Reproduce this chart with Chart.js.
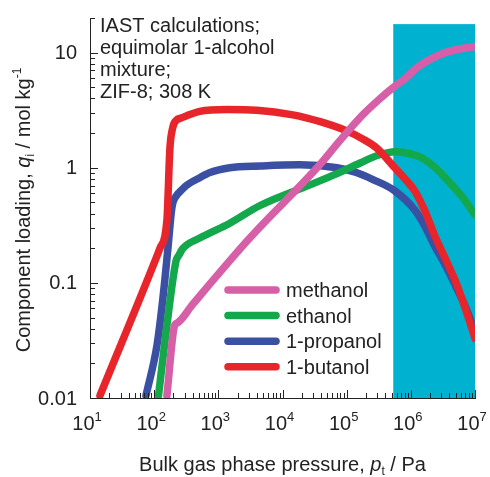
<!DOCTYPE html>
<html>
<head>
<meta charset="utf-8">
<script src="https://cdn.jsdelivr.net/npm/chart.js@4.4.0/dist/chart.umd.min.js"></script>
<style>
  html, body { margin: 0; padding: 0; background: #fff; }
  #wrap { width: 490px; height: 477px; position: relative; }
</style>
</head>
<body>
<div id="wrap"><canvas id="loadingChart"></canvas></div>
<script>
// IAST component loadings, equimolar 1-alcohol mixture in ZIF-8
const seriesNames = ['methanol', 'ethanol', '1-propanol', '1-butanol'];
const seriesColors = ['#d65fa7', '#13a84c', '#3b50a3', '#e8252b'];

const methanolP = [158, 209, 230, 398, 3090, 38000, 78300, 179000, 316000, 525000, 832000, 1240000, 2820000, 5010000, 1e7];
const methanolQ = [0.0105, 0.043, 0.045, 0.065, 0.245, 1.06, 1.72, 2.89, 3.9, 4.96, 6.0, 7.41, 9.6, 10.6, 11.3];

const ethanolP = [117, 151, 219, 240, 282, 513, 1510, 4470, 26900, 70800, 162000, 316000, 562000, 1000000, 1480000, 2400000, 3800000, 6310000, 1e7];
const ethanolQ = [0.0105, 0.035, 0.155, 0.172, 0.20, 0.245, 0.33, 0.47, 0.71, 0.89, 1.10, 1.29, 1.38, 1.32, 1.22, 1.0, 0.77, 0.56, 0.39];

const propanolP = [74.5, 111, 137, 164, 189, 226, 245, 316, 513, 741, 1510, 4470, 18600, 70800, 141000, 257000, 562000, 1150000, 1660000, 2340000, 3390000, 4900000, 7080000, 1e7];
const propanolQ = [0.0105, 0.029, 0.074, 0.20, 0.45, 0.58, 0.61, 0.70, 0.82, 0.91, 1.0, 1.035, 1.06, 1.0, 0.91, 0.79, 0.63, 0.43, 0.31, 0.21, 0.145, 0.096, 0.062, 0.038];

const butanolP = [14.3, 110, 123, 158, 176, 195, 226, 250, 316, 513, 1350, 3980, 14500, 39800, 100000, 178000, 295000, 562000, 794000, 1150000, 1660000, 2340000, 3390000, 4900000, 7080000, 1e7];
const butanolQ = [0.0105, 0.17, 0.20, 0.35, 1.48, 2.24, 2.61, 2.68, 2.82, 3.09, 3.2, 3.16, 2.88, 2.5, 2.09, 1.78, 1.48, 1.0, 0.81, 0.63, 0.42, 0.26, 0.166, 0.105, 0.060, 0.033];

// shaded pressure range
const bandP = [530000, 1e7];
const bandQ = [17.5, 17.5];

const xTickVals = [1e1, 1e2, 1e3, 1e4, 1e5, 1e6, 1e7];
const xTickExps = ['1', '2', '3', '4', '5', '6', '7'];
const yTickVals = [0.01, 0.1, 1, 10];
const yTickLabels = ['0.01', '0.1', '1', '10'];

const noteLines = ['IAST calculations;', 'equimolar 1-alcohol', 'mixture;', 'ZIF-8; 308 K'];

const FONT = '"Liberation Sans", Arial, Helvetica, sans-serif';

function toPoints(px, qy) {
    return px.map((p, i) => ({ x: p, y: qy[i] }));
}

function lineSet(label, px, qy, color, order) {
    return {
        label: label,
        data: toPoints(px, qy),
        borderColor: color,
        backgroundColor: color,
        borderWidth: 7.5,
        borderCapStyle: 'round',
        borderJoinStyle: 'round',
        pointRadius: 0,
        cubicInterpolationMode: 'monotone',
        fill: false,
        order: order
    };
}

// draws a run of text pieces, each with its own size/style/offset
function drawRich(ctx, parts, x, y, align) {
    let total = 0;
    parts.forEach(p => {
        ctx.font = (p.italic ? 'italic ' : '') + p.size + 'px ' + FONT;
        p.w = ctx.measureText(p.text).width;
        total += p.w;
    });
    let cx = align === 'center' ? x - total / 2 : x;
    ctx.textAlign = 'left';
    ctx.textBaseline = 'alphabetic';
    parts.forEach(p => {
        ctx.font = (p.italic ? 'italic ' : '') + p.size + 'px ' + FONT;
        ctx.fillText(p.text, cx, y + (p.dy || 0));
        cx += p.w;
    });
}

const axisDecor = {
    id: 'axisDecor',
    afterDatasetsDraw(chart) {
        const ctx = chart.ctx;
        const xs = chart.scales.x, ys = chart.scales.y;
        const area = chart.chartArea;
        ctx.save();
        ctx.strokeStyle = '#222';
        ctx.lineWidth = 1;

        // inward tick marks, decades longer
        for (let e = 1; e <= 7; e++) {
            for (let m = 1; m <= 9; m++) {
                const v = m * Math.pow(10, e);
                if (v > xs.max * 1.0001) break;
                const px = Math.round(xs.getPixelForValue(v)) + 0.5;
                const len = m === 1 ? 8 : 5;
                ctx.beginPath();
                ctx.moveTo(px, area.bottom);
                ctx.lineTo(px, area.bottom - len);
                ctx.stroke();
            }
        }
        for (let e = -2; e <= 1; e++) {
            for (let m = 1; m <= 9; m++) {
                const v = m * Math.pow(10, e);
                if (v > ys.max * 1.0001) break;
                const py = Math.round(ys.getPixelForValue(v)) + 0.5;
                const len = m === 1 ? 8 : 5;
                ctx.beginPath();
                ctx.moveTo(area.left, py);
                ctx.lineTo(area.left + len, py);
                ctx.stroke();
            }
        }

        ctx.fillStyle = '#222';

        // y tick labels
        ctx.font = '20px ' + FONT;
        ctx.textAlign = 'right';
        ctx.textBaseline = 'middle';
        yTickVals.forEach((v, i) => {
            ctx.fillText(yTickLabels[i], area.left - 13, ys.getPixelForValue(v) + 1);
        });

        // x tick labels as powers of ten
        xTickVals.forEach((v, i) => {
            const px = xs.getPixelForValue(v);
            drawRich(ctx, [
                { text: '10', size: 20 },
                { text: xTickExps[i], size: 13, dy: -9 }
            ], px - 3, 430, 'center');
        });

        // x axis title
        drawRich(ctx, [
            { text: 'Bulk gas phase pressure, ', size: 20 },
            { text: 'p', size: 20, italic: true },
            { text: 't', size: 12, dy: 4 },
            { text: ' / Pa', size: 20 }
        ], (area.left + area.right) / 2, 471, 'center');

        // y axis title, rotated
        ctx.save();
        ctx.translate(30, (area.top + area.bottom) / 2 + 2);
        ctx.rotate(-Math.PI / 2);
        drawRich(ctx, [
            { text: 'Component loading, ', size: 20 },
            { text: 'q', size: 20, italic: true },
            { text: 'i', size: 12, dy: 4 },
            { text: ' / mol kg', size: 20 },
            { text: '-1', size: 12, dy: -9 }
        ], 0, 0, 'center');
        ctx.restore();

        // note text
        ctx.font = '20px ' + FONT;
        ctx.textAlign = 'left';
        ctx.textBaseline = 'alphabetic';
        noteLines.forEach((t, i) => {
            ctx.fillText(t, 100, 32 + i * 22);
        });

        // legend
        seriesNames.forEach((name, i) => {
            const ly = 290 + i * 25.6;
            ctx.strokeStyle = seriesColors[i];
            ctx.lineWidth = 7.5;
            ctx.lineCap = 'round';
            ctx.beginPath();
            ctx.moveTo(228, ly);
            ctx.lineTo(276, ly);
            ctx.stroke();
            ctx.fillStyle = '#222';
            ctx.fillText(name, 286, ly + 7);
        });
        ctx.restore();
    }
};

const chart = new Chart(document.getElementById('loadingChart'), {
    type: 'line',
    data: {
        datasets: [
            lineSet(seriesNames[0], methanolP, methanolQ, seriesColors[0], 1),
            lineSet(seriesNames[3], butanolP, butanolQ, seriesColors[3], 2),
            lineSet(seriesNames[1], ethanolP, ethanolQ, seriesColors[1], 3),
            lineSet(seriesNames[2], propanolP, propanolQ, seriesColors[2], 4),
            {
                label: 'band',
                data: toPoints(bandP, bandQ),
                borderColor: '#00b2cf',
                backgroundColor: '#00b2cf',
                borderWidth: 1,
                pointRadius: 0,
                tension: 0,
                fill: 'start',
                order: 10
            }
        ]
    },
    options: {
        responsive: true,
        maintainAspectRatio: false,
        animation: false,
        layout: { padding: { left: 90, right: 15, top: 18, bottom: 79 } },
        plugins: {
            legend: { display: false },
            tooltip: { enabled: false }
        },
        scales: {
            x: {
                type: 'logarithmic',
                min: 10,
                max: 1e7,
                grid: { display: false, drawTicks: false },
                border: { display: true, color: '#222', width: 1 },
                ticks: { display: false }
            },
            y: {
                type: 'logarithmic',
                min: 0.01,
                max: 20,
                grid: { display: false, drawTicks: false },
                border: { display: true, color: '#222', width: 1 },
                ticks: { display: false }
            }
        }
    },
    plugins: [axisDecor]
});
</script>
</body>
</html>
